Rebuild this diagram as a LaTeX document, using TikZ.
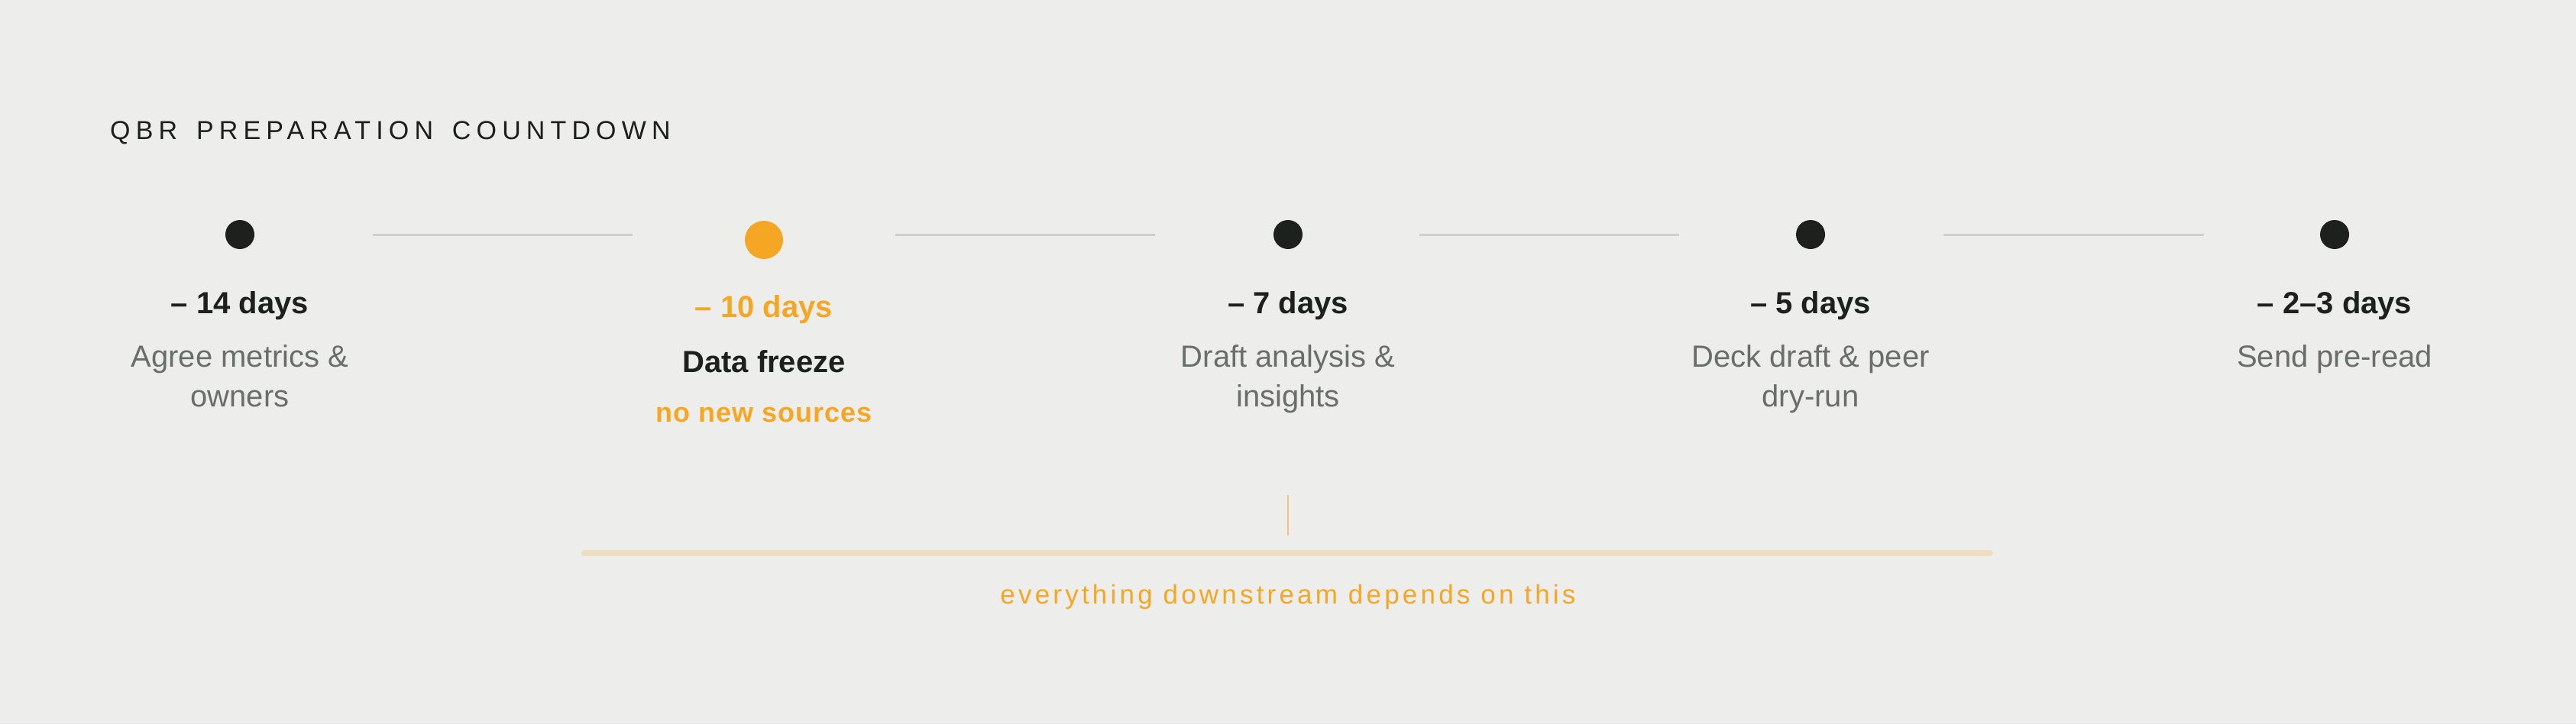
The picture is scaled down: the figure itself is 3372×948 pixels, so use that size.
\documentclass[tikz,border=0pt]{standalone}
\usepackage{fontspec}
\usepackage{xcolor}
\setmainfont{Liberation Sans}
\newfontfamily\titleFont[LetterSpace=21, WordSpace=1.5]{Liberation Sans}
\newfontfamily\noteFont[LetterSpace=12]{Liberation Sans}
\newfontfamily\sourceFont[LetterSpace=3]{Liberation Sans}
\definecolor{bgColor}{HTML}{EDEEEB}
\definecolor{titleColor}{HTML}{1D1F1D}
\definecolor{dotColorA}{HTML}{1D201D}
\definecolor{dotColorB}{HTML}{F5A623}
\definecolor{dotColorC}{HTML}{1D201D}
\definecolor{dotColorD}{HTML}{1D201D}
\definecolor{dotColorE}{HTML}{1D201D}
\definecolor{dayColor}{HTML}{1D201D}
\definecolor{taskColor}{HTML}{6B6D6A}
\definecolor{accentColor}{HTML}{F5A623}
\definecolor{linkColor}{HTML}{CFD0CD}
\definecolor{barColor}{HTML}{EFDFC2}
\definecolor{tickColor}{HTML}{F3C27A}
\def\dayA{– 14 days}
\def\dayB{– 10 days}
\def\dayC{– 7 days}
\def\dayD{– 5 days}
\def\dayE{– 2–3 days}
\def\taskA{Agree metrics \&\\owners}
\def\taskB{Data freeze}
\def\taskC{Draft analysis \&\\insights}
\def\taskD{Deck draft \& peer\\dry-run}
\def\taskE{Send pre-read}

\begin{document}
\begin{tikzpicture}[x=1bp,y=-1bp]

% background, fixes the margins
\fill[bgColor] (0, 0) rectangle (3372, 948);
\useasboundingbox (0, 0) rectangle (3372, 948);

% title
\node[anchor=base west, inner sep=0pt, text=titleColor,
font=\titleFont\fontsize{34bp}{40bp}\selectfont] (title) at (144, 182) {QBR PREPARATION COUNTDOWN};

% dots
\begin{scope}
\node [circle, inner sep=0pt, minimum size=38bp,
fill=dotColorA] (dotA) at (314, 307) {};
\node [circle, inner sep=0pt, minimum size=50bp,
fill=dotColorB] (dotB) at (1000, 314) {};
\node [circle, inner sep=0pt, minimum size=38bp,
fill=dotColorC] (dotC) at (1686, 307) {};
\node [circle, inner sep=0pt, minimum size=38bp,
fill=dotColorD] (dotD) at (2370, 307) {};
\node [circle, inner sep=0pt, minimum size=38bp,
fill=dotColorE] (dotE) at (3056, 307) {};
\end{scope}

% link layer
\begin{scope}[line width=3bp, color=linkColor]
\draw[shorten <=174bp, shorten >=172bp] (dotA.center) -- (dotA.center -| dotB.center);
\draw[shorten <=172bp, shorten >=174bp] (dotB.center |- dotC.center) -- (dotC.center);
\draw[shorten <=172bp, shorten >=172bp] (dotC.center) -- (dotD.center);
\draw[shorten <=174bp, shorten >=171bp] (dotD.center) -- (dotE.center);
\end{scope}

% label layer (two-line nodes sit on their last baseline)
\begin{scope}[inner sep=0pt, anchor=base]
\node[font=\bfseries\fontsize{40bp}{52bp}\selectfont, text=dayColor] (labelDayA) at (314, 410) {\dayA};
\node[font=\bfseries\fontsize{40bp}{52bp}\selectfont, text=accentColor] (labelDayB) at (1000, 415) {\dayB};
\node[font=\bfseries\fontsize{40bp}{52bp}\selectfont, text=dayColor] (labelDayC) at (1686, 410) {\dayC};
\node[font=\bfseries\fontsize{40bp}{52bp}\selectfont, text=dayColor] (labelDayD) at (2370, 410) {\dayD};
\node[font=\bfseries\fontsize{40bp}{52bp}\selectfont, text=dayColor] (labelDayE) at (3056, 410) {\dayE};

\node[align=center, font=\fontsize{40bp}{52bp}\selectfont, text=taskColor] (labelTaskA) at (314, 532) {\taskA};
\node[align=center, font=\bfseries\fontsize{40bp}{52bp}\selectfont, text=dayColor] (labelTaskB) at (1000, 487) {\taskB};
\node[align=center, font=\fontsize{40bp}{52bp}\selectfont, text=taskColor] (labelTaskC) at (1686, 532) {\taskC};
\node[align=center, font=\fontsize{40bp}{52bp}\selectfont, text=taskColor] (labelTaskD) at (2370, 532) {\taskD};
\node[align=center, font=\fontsize{40bp}{52bp}\selectfont, text=taskColor] (labelTaskE) at (3056, 480) {\taskE};

\node[font=\sourceFont\bfseries\fontsize{36bp}{44bp}\selectfont, text=accentColor] (labelNoteB) at (1000, 552) {no new sources};
\end{scope}

% freeze bracket
\begin{scope}
\coordinate (tickTop) at (1686, 648);
\coordinate (tickBottom) at (1686, 701);
\coordinate (barLeft) at (765, 724);
\coordinate (barRight) at (2605, 724);
\draw[color=tickColor, line width=2.5bp] (tickTop) -- (tickBottom);
\draw[color=barColor, line width=8.5bp, line cap=round] (barLeft) -- (barRight);
\node[anchor=base, inner sep=0pt, text=accentColor,
font=\noteFont\fontsize{35bp}{42bp}\selectfont] (barText) at (1686, 790) {everything downstream depends on this};
\end{scope}

\end{tikzpicture}
\end{document}
